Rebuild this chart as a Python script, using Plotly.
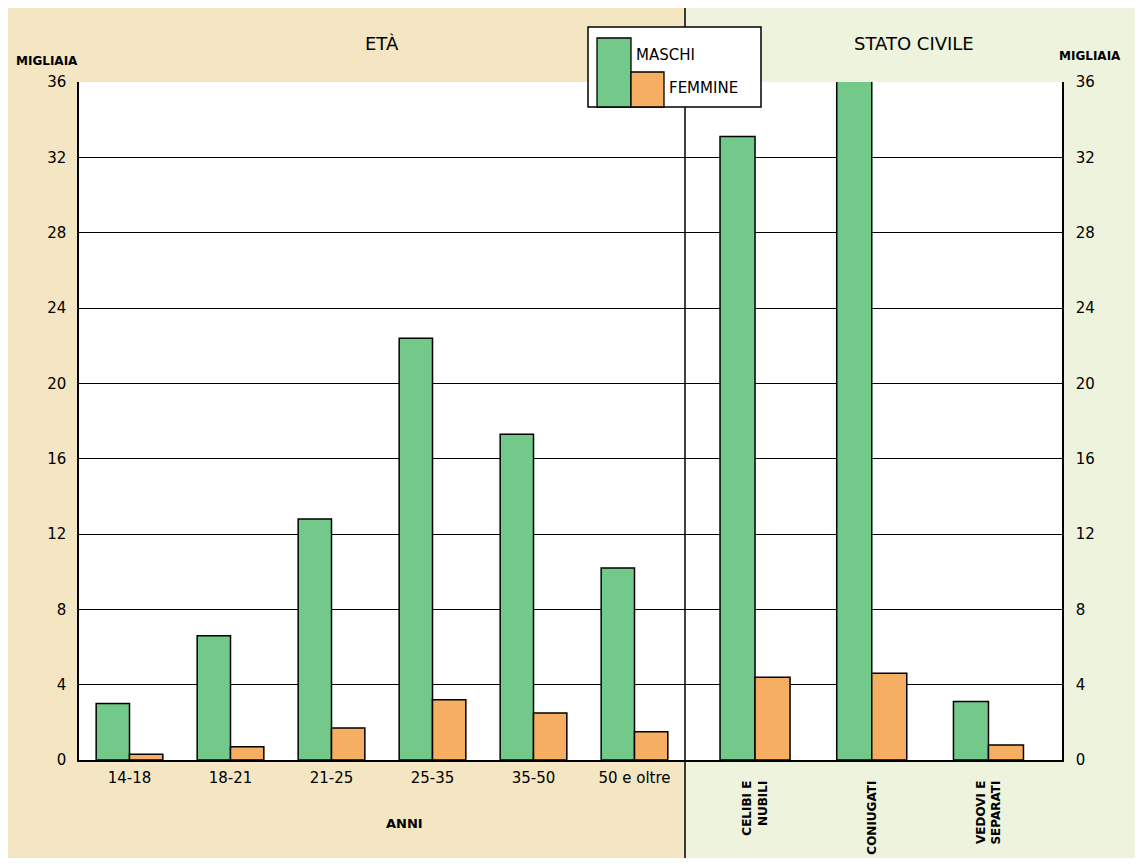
import plotly.graph_objects as go

# ---- data (migliaia) ----
eta_categories = ["14-18", "18-21", "21-25", "25-35", "35-50", "50 e oltre"]
eta_maschi = [3.0, 6.6, 12.8, 22.4, 17.3, 10.2]
eta_femmine = [0.3, 0.7, 1.7, 3.2, 2.5, 1.5]

stato_categories = ["<b>CELIBI E<br>NUBILI</b>", "<b>CONIUGATI</b>", "<b>VEDOVI E<br>SEPARATI</b>"]
stato_maschi = [33.1, 36.3, 3.1]
stato_femmine = [4.4, 4.6, 0.8]

y_ticks = [0, 4, 8, 12, 16, 20, 24, 28, 32, 36]

# ---- layout in screenshot pixels (page body has an 8px margin) ----
OFF = 8
SW, SH = 1143, 866
W, H = SW - 2 * OFF, SH - 2 * OFF          # fit page without scrollbars
PL, PR, PT, PB = 79, 1062, 82, 760          # plot area in screenshot px
ML, MT = PL - OFF, PT - OFF
MR, MB = (W + OFF) - PR, (H + OFF) - PB
PW, PH = PR - PL, PB - PT
DIV_PX = 685
d = (DIV_PX - PL) / PW

GREEN = "#72c98a"
ORANGE = "#f6ae62"
TAN = "#f4e5c3"
LGREEN = "#eef3dd"
FONT = "DejaVu Sans"


def px(x):
    return (x - PL) / PW


def py(y):
    return (PB - y) / PH


line = dict(color="black", width=1.5)
WL = 0.33   # bar width, left panel (category units)
WR = 0.30   # bar width, right panel

fig = go.Figure()
fig.add_trace(go.Bar(x=eta_categories, y=eta_maschi, name="MASCHI", width=WL, offset=-WL,
                     marker=dict(color=GREEN, line=line),
                     xaxis="x", yaxis="y", showlegend=False, cliponaxis=False))
fig.add_trace(go.Bar(x=eta_categories, y=eta_femmine, name="FEMMINE", width=WL, offset=0,
                     marker=dict(color=ORANGE, line=line),
                     xaxis="x", yaxis="y", showlegend=False, cliponaxis=False))
fig.add_trace(go.Bar(x=stato_categories, y=stato_maschi, name="MASCHI", width=WR, offset=-WR,
                     marker=dict(color=GREEN, line=line),
                     xaxis="x2", yaxis="y2", showlegend=False, cliponaxis=False))
fig.add_trace(go.Bar(x=stato_categories, y=stato_femmine, name="FEMMINE", width=WR, offset=0,
                     marker=dict(color=ORANGE, line=line),
                     xaxis="x2", yaxis="y2", showlegend=False, cliponaxis=False))

shapes = [
    # panel backgrounds
    dict(type="rect", xref="paper", yref="paper", x0=px(0), x1=px(DIV_PX), y0=py(SH + 2), y1=py(OFF),
         fillcolor=TAN, line=dict(width=0), layer="below"),
    dict(type="rect", xref="paper", yref="paper", x0=px(DIV_PX), x1=px(SW + 2), y0=py(SH + 2), y1=py(OFF),
         fillcolor=LGREEN, line=dict(width=0), layer="below"),
    # plot area
    dict(type="rect", xref="paper", yref="paper", x0=0, x1=1, y0=0, y1=1,
         fillcolor="white", line=dict(width=0), layer="below"),
    # divider
    dict(type="line", xref="paper", yref="paper", x0=d, x1=d, y0=py(SH + 2), y1=py(OFF),
         line=dict(color="black", width=1.5), layer="above"),
    # legend box
    dict(type="rect", xref="paper", yref="paper", x0=px(588), x1=px(761), y0=py(107), y1=py(27),
         fillcolor="white", line=dict(color="black", width=1.5), layer="above"),
    dict(type="rect", xref="paper", yref="paper", x0=px(597), x1=px(631), y0=py(107), y1=py(38),
         fillcolor=GREEN, line=dict(color="black", width=1.3), layer="above"),
    dict(type="rect", xref="paper", yref="paper", x0=px(631), x1=px(664), y0=py(107), y1=py(72),
         fillcolor=ORANGE, line=dict(color="black", width=1.3), layer="above"),
]


def ann(text, x, y, size, xanchor="center"):
    return dict(text=text, x=px(x), y=py(y), xref="paper", yref="paper", showarrow=False,
                xanchor=xanchor, yanchor="middle",
                font=dict(size=size, family=FONT, color="black"))


annotations = [
    ann("ETÀ", 382, 44, 18),
    ann("STATO CIVILE", 914, 43, 18),
    ann("<b>MIGLIAIA</b>", 47, 61, 12),
    ann("<b>MIGLIAIA</b>", 1090, 56, 12),
    ann("<b>ANNI</b>", 404, 823, 13),
    ann("MASCHI", 634, 55, 15, "left"),
    ann("FEMMINE", 667, 88, 15, "left"),
]

fig.update_layout(
    width=W, height=H,
    margin=dict(l=ML, r=MR, t=MT, b=MB, autoexpand=False),
    paper_bgcolor="white", plot_bgcolor="rgba(0,0,0,0)",
    barmode="overlay",
    font=dict(family=FONT, color="black"),
    shapes=shapes, annotations=annotations,
    xaxis=dict(domain=[0, d], anchor="y", type="category", range=[-0.5, 5.5], automargin=False,
               showgrid=False, showline=True, linecolor="black", linewidth=1.5,
               ticks="", tickfont=dict(size=15, family=FONT), ticklabelstandoff=3),
    xaxis2=dict(domain=[d, 1], anchor="y2", type="category", range=[-0.6, 2.63], automargin=False,
                showgrid=False, showline=True, linecolor="black", linewidth=1.5,
                ticks="", tickangle=-90, tickfont=dict(size=12, family=FONT), ticklabelstandoff=14),
    yaxis=dict(range=[0, 36], tickvals=y_ticks, showgrid=True, gridcolor="black", gridwidth=1.3,
               showline=True, linecolor="black", linewidth=1.5, ticks="", zeroline=False, automargin=False,
               tickfont=dict(size=15, family=FONT), ticklabelstandoff=8, anchor="x"),
    yaxis2=dict(range=[0, 36], tickvals=y_ticks, showgrid=True, gridcolor="black", gridwidth=1.3,
                showline=True, linecolor="black", linewidth=1.5, ticks="",
                zeroline=False, side="right", anchor="x2", automargin=False,
                tickfont=dict(size=15, family=FONT), ticklabelstandoff=9, matches="y"),
)

fig.write_html("out.html")
